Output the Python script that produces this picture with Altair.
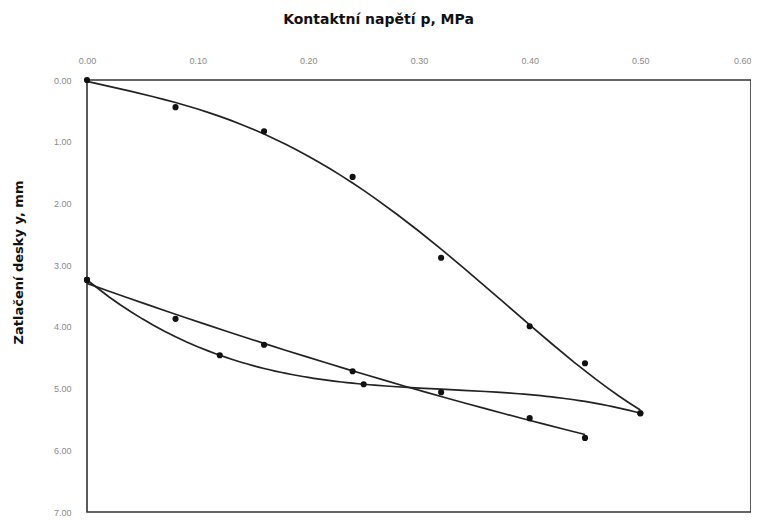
import altair as alt
import pandas as pd

# Loading branch (first loading)
load_p = [0.00, 0.08, 0.16, 0.24, 0.32, 0.40, 0.45, 0.50]
load_y = [0.00, 0.44, 0.83, 1.57, 2.88, 3.99, 4.59, 5.40]

# Unloading branch
unload_p = [0.00, 0.12, 0.25, 0.50]
unload_y = [3.24, 4.46, 4.93, 5.40]

# Reloading branch
reload_p = [0.00, 0.08, 0.16, 0.24, 0.32, 0.40, 0.45]
reload_y = [3.24, 3.87, 4.29, 4.72, 5.06, 5.48, 5.80]

x_ticks = [0.0, 0.1, 0.2, 0.3, 0.4, 0.5, 0.6]
y_ticks = [0, 1, 2, 3, 4, 5, 6, 7]

rows = []
for name, ps, ys in [("zatížení", load_p, load_y),
                     ("odlehčení", unload_p, unload_y),
                     ("opětovné zatížení", reload_p, reload_y)]:
    for p, y in zip(ps, ys):
        rows.append({"series": name, "p": p, "y": y})
df = pd.DataFrame(rows)

x_scale = alt.Scale(domain=[0, 0.6], nice=False, zero=False)
y_scale = alt.Scale(domain=[0, 7], reverse=True, nice=False, zero=False)

x_axis = alt.Axis(
    orient="top", values=x_ticks, format=".2f",
    title="Kontaktní napětí p, MPa",
    titleFont="DejaVu Sans", titleFontSize=14, titleFontWeight="bold",
    titleColor="#111", titleX=291, titleY=-61,
    titleAlign="center", titleBaseline="middle",
    labelFont="Liberation Sans", labelFontSize=9, labelColor="#8a8a8a",
    labelAlign=alt.expr("datum.value >= 0.59 ? 'right' : 'center'"),
    labelPadding=15, labelFlush=False, labelOverlap=False,
    ticks=False, domain=False, grid=False,
)
y_axis = alt.Axis(
    values=y_ticks, format=".2f",
    title="Zatlačení desky y, mm",
    titleFont="DejaVu Sans", titleFontSize=13, titleFontWeight="bold",
    titleColor="#111", titleX=-69, titleY=182, titleAngle=270,
    titleAlign="center", titleBaseline="middle",
    labelFont="Liberation Sans", labelFontSize=9, labelColor="#8a8a8a",
    labelPadding=16, labelFlush=False, ticks=False, domain=False, grid=False,
)

base = alt.Chart(df)


def trend(series, order):
    return (
        base.transform_filter(alt.datum.series == series)
        .transform_regression("p", "y", method="poly", order=order)
        .mark_line(color="#222222", strokeWidth=1.7)
        .encode(x=alt.X("p:Q", scale=x_scale, axis=x_axis),
                y=alt.Y("y:Q", scale=y_scale, axis=y_axis))
    )


points = base.mark_circle(size=38, color="#111111", opacity=1).encode(
    x=alt.X("p:Q", scale=x_scale, axis=x_axis),
    y=alt.Y("y:Q", scale=y_scale, axis=y_axis),
    detail="series:N",
)

chart = (
    alt.layer(
        trend("zatížení", 4),
        trend("odlehčení", 3),
        trend("opětovné zatížení", 2),
        points,
    )
    .properties(
        width=664, height=432,
        background="white",
        autosize=alt.AutoSizeParams(type="none"),
        padding={"left": 79, "top": 72, "right": 0, "bottom": 8},
    )
    .configure_view(stroke="#333333", strokeWidth=1.6, strokeOpacity=1)
)

chart.save("out.html", embed_options={"renderer": "svg", "actions": False})
